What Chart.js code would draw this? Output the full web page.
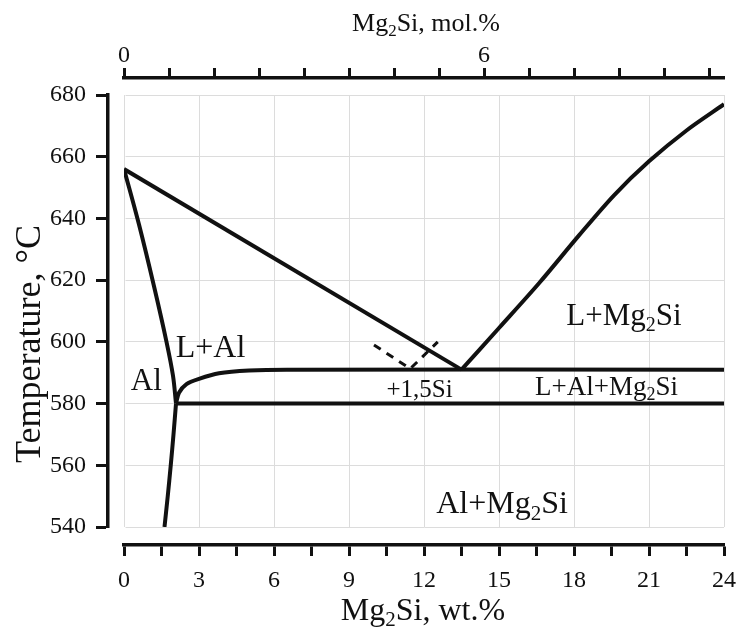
<!DOCTYPE html>
<html>
<head>
<meta charset="utf-8">
<script src="https://cdn.jsdelivr.net/npm/chart.js@4.4.0/dist/chart.umd.min.js"></script>
<style>
  body { margin: 0; background: #fff; }
</style>
</head>
<body>
<canvas id="phaseChart" width="739" height="627"></canvas>
<script>
// Al - Mg2Si section, wt.% Mg2Si vs temperature
const liquidusAlWt = [0, 13.5];
const liquidusAlT = [656, 591];

const solidusWt = [0, 0.6, 1.2, 1.7, 1.96, 2.08];
const solidusT = [656, 638, 618, 600, 589, 580];

const solvusWt = [2.08, 1.98, 1.87, 1.75, 1.62];
const solvusT = [580, 570, 560, 550, 540];

const eutecticWt = [2.08, 2.2, 2.5, 3.0, 3.8, 5.0, 6.5, 24];
const eutecticT = [580, 583.5, 586.3, 588, 589.8, 590.7, 591, 591];

const solidLineWt = [2.08, 24];
const solidLineT = [580, 580];

const liquidusMgWt = [13.5, 15, 16.6, 18.2, 19.6, 21, 22.5, 24];
const liquidusMgT = [591, 604.5, 619, 634.5, 647.5, 658.5, 668.5, 677];

const siShiftWt = [10.0, 11.45, 12.55];
const siShiftT = [599, 591.3, 600];

// axis ticks
const wtTicks = [0, 1.5, 3, 4.5, 6, 7.5, 9, 10.5, 12, 13.5, 15, 16.5, 18, 19.5, 21, 22.5, 24];
const wtLabels = [0, 3, 6, 9, 12, 15, 18, 21, 24];
const molTicks = [0, 0.75, 1.5, 2.25, 3, 3.75, 4.5, 5.25, 6, 6.75, 7.5, 8.25, 9, 9.75];
const molLabels = [0, 6];

const serif = '"Liberation Serif", "Times New Roman", serif';
const ink = '#111';

// region labels, parts: [text, subscript]
const regionLabels = [
    { parts: [['Al']], wt: 0.89, t: 584.4, size: 31 },
    { parts: [['L+Al']], wt: 3.46, t: 595.2, size: 32 },
    { parts: [['L+Mg'], ['2', 1], ['Si']], wt: 20.0, t: 605.5, size: 31 },
    { parts: [['+1,5Si']], wt: 11.82, t: 582.1, size: 25 },
    { parts: [['L+Al+Mg'], ['2', 1], ['Si']], wt: 19.3, t: 582.8, size: 27 },
    { parts: [['Al+Mg'], ['2', 1], ['Si']], wt: 15.12, t: 544.4, size: 32 }
];

const pts = (xs, ys) => xs.map((x, i) => ({ x: x, y: ys[i] }));

function curve(xs, ys, extra) {
    return Object.assign({
        data: pts(xs, ys),
        borderColor: ink,
        borderWidth: 4,
        pointRadius: 0,
        tension: 0,
        fill: false,
        borderJoinStyle: 'round'
    }, extra || {});
}

function drawRich(ctx, parts, x, y, size, rotate) {
    const fontOf = p => (p[1] ? Math.round(size * 0.65) : size) + 'px ' + serif;
    const widths = parts.map(p => { ctx.font = fontOf(p); return ctx.measureText(p[0]).width; });
    const total = widths.reduce((a, b) => a + b, 0);
    ctx.save();
    ctx.translate(x, y);
    if (rotate) ctx.rotate(-Math.PI / 2);
    ctx.textAlign = 'left';
    ctx.textBaseline = 'alphabetic';
    let cx = -total / 2;
    parts.forEach((p, i) => {
        ctx.font = fontOf(p);
        ctx.fillText(p[0], cx, p[1] ? size * 0.2 : 0);
        cx += widths[i];
    });
    ctx.restore();
}

const textPlugin = {
    id: 'phaseText',
    afterDraw(chart) {
        const { ctx, scales, chartArea } = chart;
        ctx.save();
        ctx.fillStyle = ink;
        regionLabels.forEach(l => {
            drawRich(ctx, l.parts, scales.x.getPixelForValue(l.wt), scales.y.getPixelForValue(l.t), l.size);
        });
        const midX = (chartArea.left + chartArea.right) / 2;
        drawRich(ctx, [['Mg'], ['2', 1], ['Si, mol.%']], midX + 2, 31, 26);
        drawRich(ctx, [['Mg'], ['2', 1], ['Si, wt.%']], midX - 1, 620, 32);
        drawRich(ctx, [['Temperature, °C']], 40, 344, 36, true);
        ctx.restore();
    }
};

const tickFont = { family: serif, size: 24 };

// keep label overhang from shrinking the plot area
const noPad = s => { s.paddingLeft = 0; s.paddingRight = 0; s.paddingTop = 0; s.paddingBottom = 0; };

new Chart(document.getElementById('phaseChart').getContext('2d'), {
    type: 'line',
    data: {
        datasets: [
            curve(liquidusAlWt, liquidusAlT),
            curve(solidusWt, solidusT, { tension: 0.35 }),
            curve(solvusWt, solvusT, { tension: 0.3 }),
            curve(eutecticWt, eutecticT, { tension: 0.3 }),
            curve(solidLineWt, solidLineT),
            curve(liquidusMgWt, liquidusMgT, { tension: 0.3 }),
            curve(siShiftWt, siShiftT, { borderWidth: 3, borderDash: [8, 7] })
        ]
    },
    options: {
        responsive: false,
        animation: false,
        layout: { padding: { right: 15 } },
        plugins: { legend: { display: false }, tooltip: { enabled: false } },
        scales: {
            x: {
                type: 'linear', position: 'bottom', min: 0, max: 24, weight: 0,
                ticks: { display: false, stepSize: 3 },
                grid: { color: '#dcdcdc', drawTicks: false },
                border: { display: false },
                afterFit: s => { noPad(s); s.height = 18; }
            },
            xa: {
                type: 'linear', position: 'bottom', min: 0, max: 24, weight: 1,
                afterBuildTicks: s => { s.ticks = wtTicks.map(v => ({ value: v })); },
                ticks: {
                    autoSkip: false, maxRotation: 0, padding: 10, font: tickFont, color: ink,
                    callback: v => wtLabels.includes(v) ? String(v) : ''
                },
                grid: { drawOnChartArea: false, tickLength: 11, tickWidth: 3, tickColor: ink },
                border: { color: ink, width: 3.5 },
                afterFit: s => { noPad(s); s.height = 82; }
            },
            xt: {
                type: 'linear', position: 'top', min: 0, max: 10, weight: 0,
                ticks: { display: false },
                grid: { display: false },
                border: { display: false },
                afterFit: s => { noPad(s); s.height = 17; }
            },
            xm: {
                type: 'linear', position: 'top', min: 0, max: 10, weight: 1,
                afterBuildTicks: s => { s.ticks = molTicks.map(v => ({ value: v })); },
                ticks: {
                    autoSkip: false, maxRotation: 0, padding: -2, font: tickFont, color: ink,
                    callback: v => molLabels.includes(v) ? String(v) : ''
                },
                grid: { drawOnChartArea: false, tickLength: 10, tickWidth: 3, tickColor: ink },
                border: { color: ink, width: 3.5 },
                afterFit: s => { noPad(s); s.height = 78; }
            },
            yg: {
                type: 'linear', position: 'left', min: 540, max: 680, weight: 0,
                ticks: { display: false },
                grid: { display: false },
                border: { display: false },
                afterFit: s => { noPad(s); s.width = 16; }
            },
            y: {
                type: 'linear', position: 'left', min: 540, max: 680, weight: 1,
                ticks: { stepSize: 20, padding: 10, font: tickFont, color: ink },
                grid: { color: '#dcdcdc', tickLength: 12, tickWidth: 3, tickColor: ink },
                border: { color: ink, width: 3.5 },
                afterFit: s => { noPad(s); s.width = 108; }
            }
        }
    },
    plugins: [textPlugin]
});
</script>
</body>
</html>
